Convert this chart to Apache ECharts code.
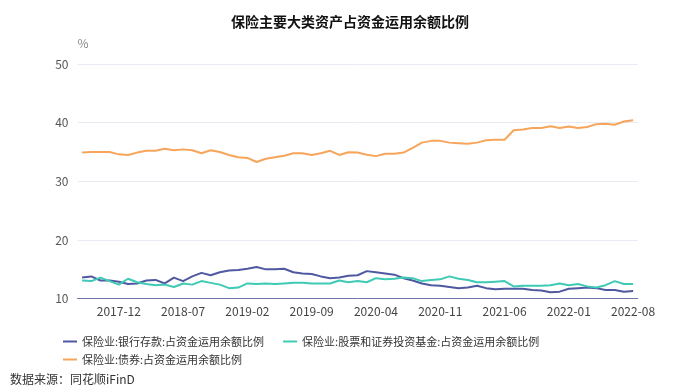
<!DOCTYPE html>
<html>
<head>
<meta charset="utf-8">
<script src="https://cdn.jsdelivr.net/npm/echarts@6/dist/echarts.min.js"></script>
<style>html,body{margin:0;padding:0;background:#fff;}#c{width:700px;height:392px;}</style>
</head>
<body>
<div id="c"></div>
<script>
const months = [];
(function(){ let y=2017,m=8; for(let i=0;i<61;i++){ months.push(y+'-'+(m<10?'0'+m:m)); m++; if(m>12){m=1;y++;} } })();

const bankDeposits = [13.6,13.8,13.1,13.1,12.9,12.5,12.6,13.1,13.2,12.6,13.6,13.0,13.8,14.4,14.0,14.5,14.8,14.9,15.1,15.4,15.0,15.0,15.1,14.5,14.3,14.2,13.8,13.5,13.6,13.9,14.0,14.7,14.5,14.3,14.1,13.5,13.1,12.6,12.3,12.2,12.0,11.8,11.9,12.2,11.8,11.6,11.7,11.7,11.7,11.5,11.4,11.1,11.2,11.7,11.8,11.9,11.8,11.5,11.5,11.2,11.3];
const stocksFunds = [13.1,13.0,13.6,13.0,12.4,13.4,12.8,12.5,12.3,12.4,12.0,12.6,12.4,13.0,12.7,12.4,11.8,11.9,12.6,12.5,12.6,12.5,12.6,12.7,12.7,12.6,12.6,12.6,13.1,12.8,13.0,12.8,13.5,13.3,13.4,13.6,13.5,13.0,13.2,13.3,13.8,13.4,13.2,12.8,12.8,12.9,13.0,12.1,12.2,12.2,12.2,12.3,12.6,12.3,12.5,12.1,11.9,12.3,13.0,12.5,12.5];
const bonds = [34.9,35.0,35.0,35.0,34.6,34.5,34.9,35.2,35.2,35.55,35.3,35.45,35.3,34.8,35.3,35.0,34.5,34.1,34.0,33.3,33.85,34.1,34.35,34.8,34.8,34.5,34.8,35.2,34.5,34.95,34.9,34.55,34.3,34.7,34.7,34.9,35.7,36.6,36.9,36.9,36.6,36.5,36.4,36.6,37.0,37.1,37.1,38.7,38.85,39.1,39.1,39.4,39.1,39.35,39.1,39.25,39.75,39.8,39.65,40.2,40.4];

const seriesNames = ['保险业:银行存款:占资金运用余额比例','保险业:股票和证券投资基金:占资金运用余额比例','保险业:债券:占资金运用余额比例'];
const colors = ['#4f58a0','#3ecab4','#f7a55a'];
const yTicks = {min:10,max:50,interval:10};
const font = '"Noto Sans CJK SC","Noto Sans",sans-serif';

const chart = echarts.init(document.getElementById('c'), null, {renderer:'canvas'});
const dataSets = [bankDeposits, stocksFunds, bonds];
const legendBase = {left:58,itemWidth:14,itemHeight:2,itemGap:19,icon:'rect',
    textStyle:{fontSize:11,color:'#333',fontFamily:font}};
chart.setOption({
  animation:false,
  backgroundColor:'#fff',
  textStyle:{fontFamily:font},
  title:{text:'保险主要大类资产占资金运用余额比例',left:'center',top:10,textStyle:{fontSize:14,fontWeight:'bold',color:'#111',fontFamily:font}},
  grid:{left:77.5,right:62.3,top:64,bottom:93.3,containLabel:false},
  legend:[Object.assign({top:331,data:seriesNames.slice(0,2)},legendBase),
          Object.assign({top:349,data:seriesNames.slice(2)},legendBase)],
  graphic:[{type:'text',left:10,top:373,style:{text:'数据来源：同花顺iFinD',fontSize:12,fill:'#333',fontFamily:font}}],
  xAxis:{type:'category',data:months,boundaryGap:true,
    axisLine:{lineStyle:{color:'#7178a8',width:1}},axisTick:{show:false},
    axisLabel:{interval:function(i){return (60-i)%7===0;},margin:7,fontSize:12,color:'#444',fontFamily:font}},
  yAxis:{type:'value',min:yTicks.min,max:yTicks.max,interval:yTicks.interval,name:'%',nameGap:15,
    nameTextStyle:{align:'left',color:'#888',fontSize:12,fontFamily:font},
    axisLine:{show:false},axisTick:{show:false},
    splitLine:{lineStyle:{color:'#e9eaf3'}},
    axisLabel:{fontSize:12,color:'#555',margin:9,fontFamily:font}},
  series:dataSets.map((d,k)=>({name:seriesNames[k],type:'line',data:d,symbol:'none',smooth:false,
    lineStyle:{width:2,color:colors[k]},itemStyle:{color:colors[k]}}))
});
</script>
</body>
</html>
